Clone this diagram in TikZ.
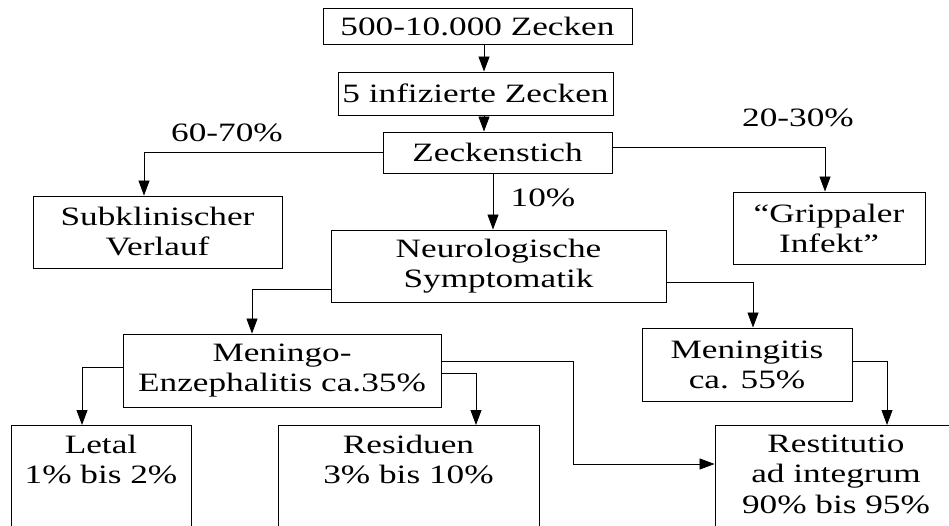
\documentclass[tikz,border=0pt]{standalone}
\usepackage{fontspec}
\setmainfont{Liberation Serif}[FakeStretch=1.33]
\usetikzlibrary{arrows.meta, positioning}

\tikzset{
  box/.style={draw, line width=0.9pt, align=center, inner sep=0pt,
    font=\fontsize{26.5}{30}\selectfont},
  endbox/.style={box, anchor=north, inner ysep=10pt, text depth=120pt},
  pct/.style={font=\fontsize{26.5}{30}\selectfont},
  arr/.style={-{Triangle[width=11pt,length=15pt]}, line width=0.8pt},
}

\begin{document}
\begin{tikzpicture}[x=1pt,y=-1pt]
    \useasboundingbox (0,0) rectangle (949,526);
    \clip (0,0) rectangle (949,526);

    % Top chain
    \node[box, minimum width=309, minimum height=36] (ticks) at (477.5,26) {500-10.000 Zecken};
    \node[box, minimum width=275, minimum height=43] (infect) at (475.5,93.5) {5 infizierte Zecken};
    \node[box, minimum width=229, minimum height=41] (bite) at (497.5,152.5) {Zeckenstich};

    % Second row
    \node[box, minimum width=249, minimum height=72] (subcl) at (157.5,232) {Subklinischer\\Verlauf};
    \node[box, minimum width=192, minimum height=72] (flu) at (829,228) {“Grippaler\\Infekt”};
    \node[box, minimum width=335, minimum height=72] (neuro) at (498.5,266) {Neurologische\\Symptomatik};

    % Third row
    \node[box, minimum width=318, minimum height=73] (menenc) at (282,370.5) {Meningo-\\Enzephalitis ca.35\%};
    \node[box, minimum width=210, minimum height=73] (mening) at (747,364.5) {Meningitis\\ca. 55\%};

    % Outcomes (cut off at the bottom)
    \node[endbox, minimum width=180] (lethal) at (101,425) {Letal\\1\% bis 2\%};
    \node[endbox, minimum width=261] (resid) at (408.5,425) {Residuen\\3\% bis 10\%};
    \node[endbox, minimum width=242] (restit) at (836,425) {Restitutio\\ad integrum\\90\% bis 95\%};

    % Percent labels
    \node[pct] (p60) at (227,133) {60-70\%};
    \node[pct] (p20) at (798,118) {20-30\%};
    \node[pct] (p10) at (543,198) {10\%};

    % Arrows
    \draw[arr] ([xshift=6.5pt]ticks.south) -- ([xshift=6.5pt]ticks.south |- infect.north);
    \draw[arr] ([xshift=8.5pt]infect.south) -- ([xshift=8.5pt]infect.south |- bite.north);
    \draw[arr] (bite.west) -| ([xshift=-13.5pt]subcl.north);
    \draw[arr] ([yshift=5.5pt]bite.east) -| ([xshift=-4pt]flu.north);
    \draw[arr] ([xshift=-4.5pt]bite.south) -- ([xshift=-4.5pt]bite.south |- neuro.north);
    \draw[arr] ([yshift=-23pt]neuro.west) -| ([xshift=-30pt]menenc.north);
    \draw[arr] ([yshift=-16pt]neuro.east) -| ([xshift=6pt]mening.north);
    \draw[arr] ([yshift=3.5pt]menenc.west) -| ([xshift=-19pt]lethal.north);
    \draw[arr] ([yshift=-2.5pt]menenc.east) -| ([xshift=67.5pt]resid.north);
    \draw[arr] ([yshift=9.5pt]menenc.east) -- ++(132,0) |- ([yshift=-39pt]restit.north west);
    \draw[arr] ([yshift=3.5pt]mening.east) -| ([xshift=51pt]restit.north);
\end{tikzpicture}
\end{document}
